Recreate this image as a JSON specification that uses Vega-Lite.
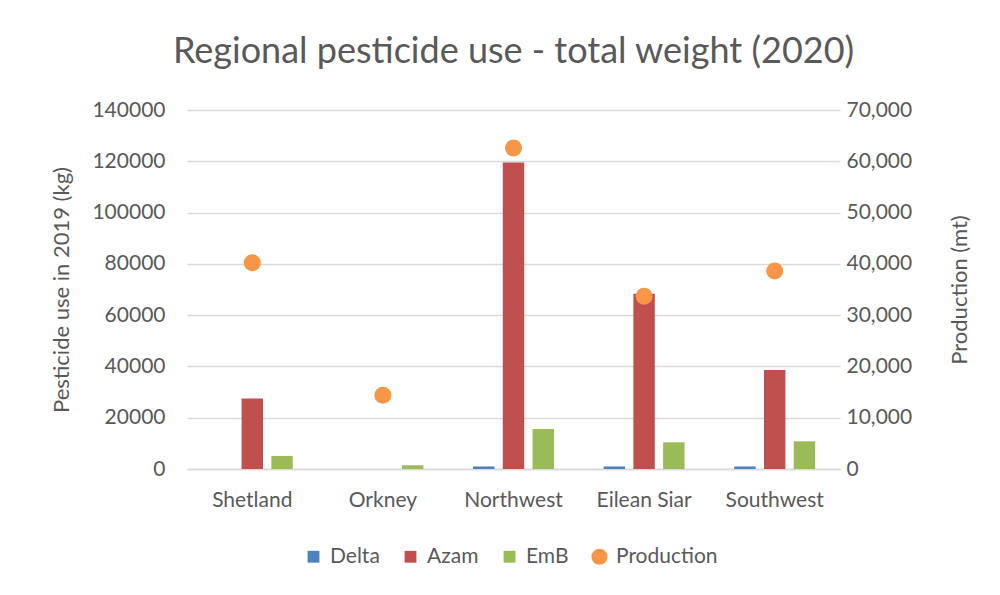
{
  "$schema": "https://vega.github.io/schema/vega-lite/v6.json",
  "width": 653,
  "height": 359,
  "autosize": {"type": "none"},
  "padding": {"left": 187, "top": 110, "right": 160, "bottom": 126},
  "background": "white",
  "title": {
    "text": "Regional pesticide use - total weight (2020)",
    "fontSize": 36,
    "font": "Lato",
    "fontWeight": "normal",
    "color": "#595959",
    "anchor": "middle",
    "offset": 28
  },
  "config": {
    "font": "Lato",
    "view": {"stroke": null},
    "axis": {
      "labelFont": "Lato",
      "titleFont": "Lato",
      "labelColor": "#595959",
      "titleColor": "#595959",
      "labelFontSize": 21,
      "titleFontSize": 22,
      "titleFontWeight": "normal",
      "labelOverlap": false,
      "ticks": false,
      "domain": false,
      "gridColor": "#d9d9d9",
      "gridWidth": 1.5
    },
    "legend": {
      "labelFont": "Lato",
      "labelFontSize": 21,
      "labelColor": "#595959"
    }
  },
  "datasets": {
    "bars": [
      {"region": "Shetland", "series": "Delta", "value": 0},
      {"region": "Shetland", "series": "Azam", "value": 27500},
      {"region": "Shetland", "series": "EmB", "value": 5100},
      {"region": "Orkney", "series": "Delta", "value": 0},
      {"region": "Orkney", "series": "Azam", "value": 0},
      {"region": "Orkney", "series": "EmB", "value": 1450},
      {"region": "Northwest", "series": "Delta", "value": 1000},
      {"region": "Northwest", "series": "Azam", "value": 119500},
      {"region": "Northwest", "series": "EmB", "value": 15600},
      {"region": "Eilean Siar", "series": "Delta", "value": 1000},
      {"region": "Eilean Siar", "series": "Azam", "value": 68300},
      {"region": "Eilean Siar", "series": "EmB", "value": 10400},
      {"region": "Southwest", "series": "Delta", "value": 1000},
      {"region": "Southwest", "series": "Azam", "value": 38600},
      {"region": "Southwest", "series": "EmB", "value": 10800}
    ],
    "prod": [
      {"region": "Shetland", "series": "Production", "value": 40200},
      {"region": "Orkney", "series": "Production", "value": 14400},
      {"region": "Northwest", "series": "Production", "value": 62600},
      {"region": "Eilean Siar", "series": "Production", "value": 33700},
      {"region": "Southwest", "series": "Production", "value": 38600}
    ]
  },
  "encoding": {
    "x": {
      "field": "region",
      "type": "nominal",
      "sort": ["Shetland", "Orkney", "Northwest", "Eilean Siar", "Southwest"],
      "scale": {"paddingInner": 0.38, "paddingOuter": 0.19},
      "axis": {"title": null, "labelAngle": 0, "labelPadding": 20, "domain": true, "domainColor": "#d9d9d9", "domainWidth": 1.5}
    }
  },
  "layer": [
    {
      "data": {"name": "bars"},
      "mark": {"type": "bar"},
      "encoding": {
        "xOffset": {
          "field": "series",
          "type": "nominal",
          "sort": ["Delta", "Azam", "EmB"],
          "scale": {"paddingInner": 0.28, "paddingOuter": 0}
        },
        "y": {
          "field": "value",
          "type": "quantitative",
          "scale": {"domain": [0, 140000], "nice": false},
          "axis": {
            "title": "Pesticide use in 2019 (kg)",
            "format": "d",
            "values": [0, 20000, 40000, 60000, 80000, 100000, 120000, 140000],
            "labelPadding": 22,
            "titlePadding": 18
          }
        },
        "color": {
          "field": "series",
          "type": "nominal",
          "scale": {
            "domain": ["Delta", "Azam", "EmB", "Production"],
            "range": ["#4F81BD", "#C0504D", "#9BBB59", "#F79646"]
          },
          "legend": {
            "title": null,
            "orient": "none",
            "legendX": 116,
            "legendY": 436,
            "direction": "horizontal",
            "columnPadding": 20,
            "symbolSize": 150,
            "symbolStrokeWidth": 0,
            "labelOffset": 6,
            "encode": {
              "symbols": {
                "update": {
                  "shape": {"signal": "datum.value === 'Production' ? 'circle' : 'square'"},
                  "size": {"signal": "datum.value === 'Production' ? 260 : 140"},
                  "strokeWidth": {"value": 0}
                }
              }
            }
          }
        }
      }
    },
    {
      "data": {"name": "prod"},
      "mark": {"type": "point", "filled": true, "opacity": 1, "size": 290},
      "encoding": {
        "y": {
          "field": "value",
          "type": "quantitative",
          "scale": {"domain": [0, 70000], "nice": false},
          "axis": {
            "title": "Production (mt)",
            "orient": "right",
            "format": ",.0f",
            "grid": false,
            "values": [0, 10000, 20000, 30000, 40000, 50000, 60000, 70000],
            "labelPadding": 6,
            "titleAngle": 270,
            "titleBaseline": "bottom",
            "titlePadding": 60
          }
        },
        "color": {"field": "series", "type": "nominal"}
      }
    }
  ],
  "resolve": {"scale": {"y": "independent"}}
}
